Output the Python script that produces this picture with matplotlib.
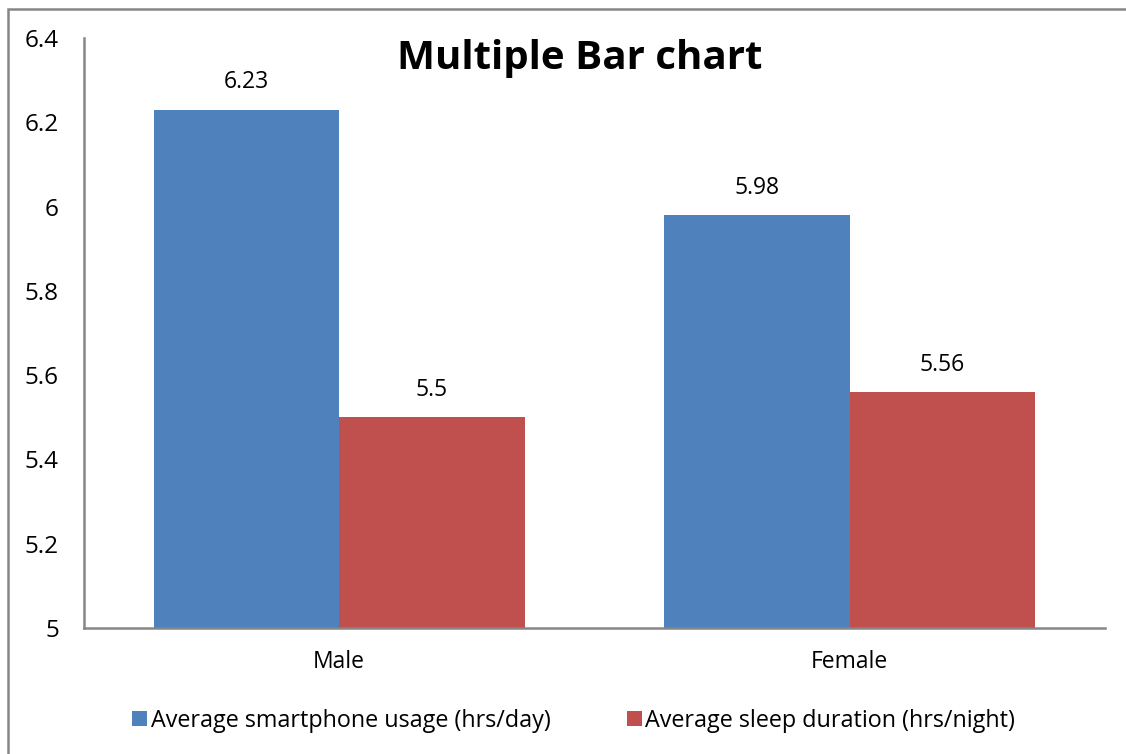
import matplotlib

matplotlib.use("Agg")
import matplotlib.pyplot as plt
import numpy as np
from matplotlib.patches import Rectangle

plt.rcParams["font.family"] = ["Open Sans", "DejaVu Sans"]

categories = ["Male", "Female"]
usage = [6.23, 5.98]
sleep = [5.5, 5.56]
series_names = ["Average smartphone usage (hrs/day)", "Average sleep duration (hrs/night)"]
yticks = [5, 5.2, 5.4, 5.6, 5.8, 6, 6.2, 6.4]
ytick_labels = ["5", "5.2", "5.4", "5.6", "5.8", "6", "6.2", "6.4"]

BLUE = "#4F81BD"
RED = "#C0504D"
GRAY = "#868686"

fig = plt.figure(figsize=(11.26, 7.54), dpi=100)
ax = fig.add_axes([0.0746, 0.1671, 0.9067, 0.7825])

x = np.arange(len(categories))
w = 1 / 2.75
b1 = ax.bar(x - w / 2, [v - 5 for v in usage], w, bottom=5, color=BLUE,
            label=series_names[0])
b2 = ax.bar(x + w / 2, [v - 5 for v in sleep], w, bottom=5, color=RED,
            label=series_names[1])

for bars, vals in ((b1, usage), (b2, sleep)):
    for rect, v in zip(bars, vals):
        ax.annotate(f"{v:g}", (rect.get_x() + rect.get_width() / 2, v),
                    xytext=(0, 11), textcoords="offset points",
                    ha="center", va="bottom", fontsize=16.5)

ax.set_xlim(-0.5, len(categories) - 0.5)
ax.set_ylim(5, 6.4)
ax.set_yticks(yticks, ytick_labels, fontsize=17.5)
ax.set_xticks(x, categories, fontsize=16.5)
ax.tick_params(length=0)
ax.tick_params(axis="y", pad=18)
ax.tick_params(axis="x", pad=16)
for side in ("top", "right"):
    ax.spines[side].set_visible(False)
for side in ("left", "bottom"):
    ax.spines[side].set_color(GRAY)
    ax.spines[side].set_linewidth(1.8)

fig.text(0.515, 0.922, "Multiple Bar chart", ha="center", va="center",
         fontsize=29, fontweight="bold")

fig.legend(loc="center", bbox_to_anchor=(0.5095, 0.044), ncol=2, frameon=False,
           fontsize=16.8, handlelength=0.65, handleheight=0.65, handletextpad=0.15,
           columnspacing=3.25)

# outer chart frame, running off the right and bottom edges
fig.add_artist(Rectangle((8 / 1126, -0.1), 1.2, 1.1 - 9 / 754,
                         transform=fig.transFigure, fill=False,
                         edgecolor=GRAY, linewidth=1.8))

fig.savefig("out.png", dpi=100)
